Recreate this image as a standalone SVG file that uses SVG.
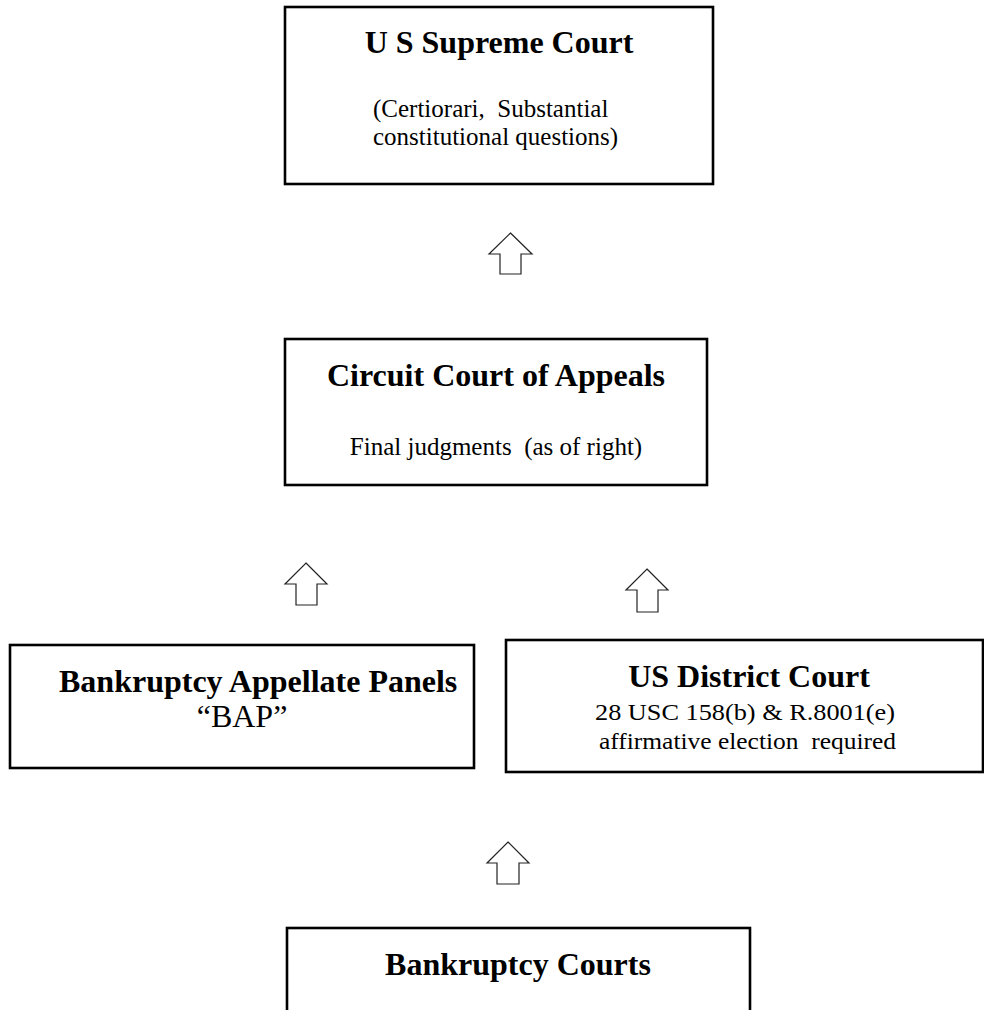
<svg xmlns="http://www.w3.org/2000/svg" width="984" height="1010" viewBox="0 0 984 1010">
<style>
.box{fill:#fff;stroke:#000;stroke-width:2.6}
.t{font-family:"Liberation Serif","Times New Roman",serif;font-weight:bold;font-size:32px;fill:#000}
.s{font-family:"Liberation Serif","Times New Roman",serif;font-size:25px;fill:#000}
.n{font-family:"Liberation Serif","Times New Roman",serif;font-size:23px;fill:#000}
.arr{fill:#fff;stroke:#222;stroke-width:1.2;stroke-linejoin:miter}
</style>
<rect width="984" height="1010" fill="#fff"/>
<g id="supreme">
<rect class="box" x="285" y="7" width="428" height="177"/>
<text class="t" x="499" y="53" text-anchor="middle">U S Supreme Court</text>
<text class="s" x="373" y="117" xml:space="preserve">(Certiorari,  Substantial</text>
<text class="s" x="373" y="145">constitutional questions)</text>
</g>
<g id="circuit">
<rect class="box" x="285" y="339" width="422" height="146"/>
<text class="t" x="496" y="386" text-anchor="middle">Circuit Court of Appeals</text>
<text class="s" x="496" y="455" text-anchor="middle" xml:space="preserve">Final judgments  (as of right)</text>
</g>
<g id="bap">
<rect class="box" x="10" y="645" width="464" height="123"/>
<text class="t" x="59" y="692">Bankruptcy Appellate Panels</text>
<text class="s" x="242" y="727" text-anchor="middle" style="font-size:32px">“BAP”</text>
</g>
<g id="district">
<rect class="box" x="506" y="640" width="477" height="132"/>
<text class="t" x="749" y="687" text-anchor="middle">US District Court</text>
<text class="n" x="595" y="720" textLength="300" lengthAdjust="spacingAndGlyphs">28 USC 158(b) &amp; R.8001(e)</text>
<text class="n" x="599" y="749" textLength="297" lengthAdjust="spacingAndGlyphs" xml:space="preserve">affirmative election  required</text>
</g>
<g id="bankruptcy">
<rect class="box" x="287" y="928" width="463" height="100"/>
<text class="t" x="518" y="975" text-anchor="middle">Bankruptcy Courts</text>
</g>
<g id="connectors">
<path class="arr" d="M510.5 233 L532 254 L521 254 L521 274 L500 274 L500 254 L489 254 Z"/>
<path class="arr" d="M306 563 L327 584 L317 584 L317 605 L296 605 L296 584 L285 584 Z"/>
<path class="arr" d="M647 569 L668 590 L658 590 L658 612 L637 612 L637 590 L626 590 Z"/>
<path class="arr" d="M508 842 L529 863 L519 863 L519 884 L497 884 L497 863 L487 863 Z"/>
</g>
</svg>
